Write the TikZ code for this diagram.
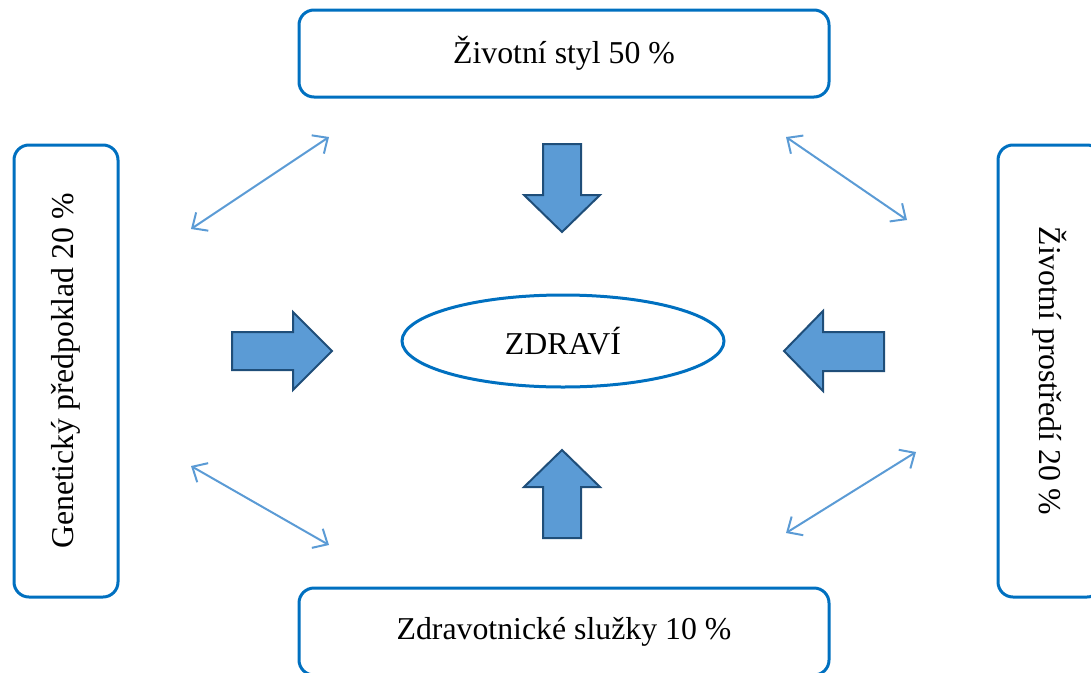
\documentclass[tikz,border=0pt]{standalone}
\usepackage{fontspec}
\setmainfont{Liberation Serif}
\usetikzlibrary{arrows.meta,shapes.geometric}
\definecolor{boxblue}{HTML}{0070C0}
\definecolor{arrowfill}{HTML}{5B9BD5}
\definecolor{arrowline}{HTML}{1F4E79}
\definecolor{thinblue}{HTML}{5B9BD5}
\tikzset{
  factorbox/.style={draw=boxblue, line width=3pt, rounded corners=15pt, inner sep=0pt,
    font=\fontsize{31.8}{36}\selectfont, fill=white},
  healthnode/.style={draw=boxblue, line width=3pt, ellipse, inner sep=0pt,
    minimum width=322pt, minimum height=92pt, font=\fontsize{31.8}{36}\selectfont},
  blockarrow/.style={fill=arrowfill, draw=arrowline, line width=2pt, line join=miter},
  linkarrow/.style={draw=thinblue, line width=2pt,
    {Straight Barb[length=12pt,width=22pt]}-{Straight Barb[length=12pt,width=22pt]}}
}
\begin{document}
\begin{tikzpicture}[x=1pt,y=-1pt]
\useasboundingbox (0,0) rectangle (1091,672);
\node[factorbox, minimum width=530pt, minimum height=87pt] (life) at (564,53.5) {Životní styl 50 \%};
\node[factorbox, minimum width=530pt, minimum height=87pt] (care) at (564,631.5) {Zdravotnické služky 10 \%};
\node[factorbox, rotate=90, minimum width=452pt, minimum height=104pt] (gene) at (66,371) {Genetický předpoklad 20 \%};
\node[factorbox, rotate=-90, minimum width=452pt, minimum height=104pt] (env) at (1050,371) {Životní prostředí 20 \%};
\node[healthnode] (health) at (563,341) {ZDRAVÍ};
% block arrows
\draw[blockarrow] (232,332) -- (293,332) -- (293,312) -- (332,351) -- (293,390) -- (293,370) -- (232,370) -- cycle;
\draw[blockarrow] (884,332) -- (823,332) -- (823,311) -- (784,351) -- (823,391) -- (823,371) -- (884,371) -- cycle;
\draw[blockarrow] (543,144) -- (581,144) -- (581,195) -- (600,195) -- (562,232) -- (524,195) -- (543,195) -- cycle;
\draw[blockarrow] (543,538) -- (581,538) -- (581,487) -- (600,487) -- (562,450) -- (524,487) -- (543,487) -- cycle;
% thin double arrows
\coordinate (tl1) at (191,229); \coordinate (tl2) at (329,137);
\coordinate (tr1) at (786,137); \coordinate (tr2) at (907,220);
\coordinate (bl1) at (191,466); \coordinate (bl2) at (329,545);
\coordinate (br1) at (786,533); \coordinate (br2) at (916,452);
\draw[linkarrow] (tl1) -- (tl2);
\draw[linkarrow] (tr1) -- (tr2);
\draw[linkarrow] (bl1) -- (bl2);
\draw[linkarrow] (br1) -- (br2);
\end{tikzpicture}
\end{document}
